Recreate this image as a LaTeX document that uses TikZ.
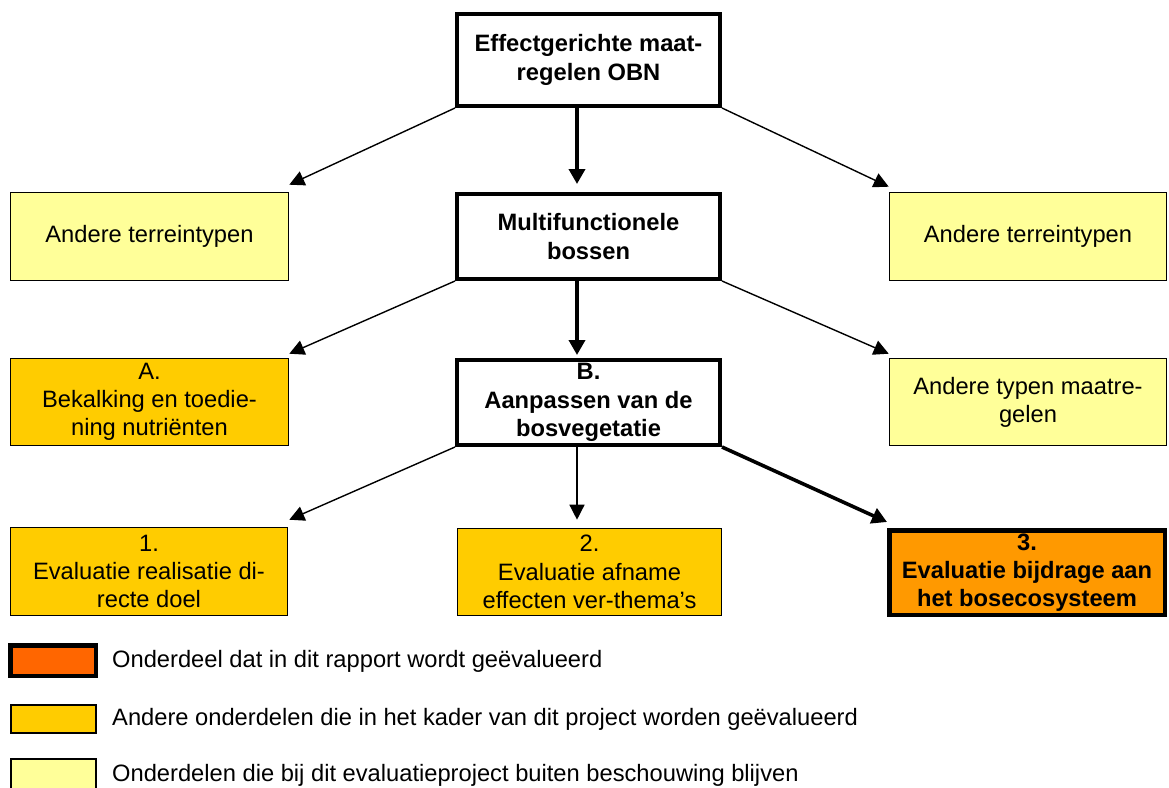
\documentclass[tikz,border=0pt]{standalone}
\usepackage{fontspec}
\setmainfont{Liberation Sans}
\usetikzlibrary{arrows.meta,calc}
\definecolor{lightyel}{HTML}{FFFF99}
\definecolor{gold}{HTML}{FFCC00}
\definecolor{orng}{HTML}{FF9900}
\definecolor{redorng}{HTML}{FF6600}
\begin{document}
\begin{tikzpicture}[x=1pt,y=-1pt,
  box/.style={draw, line width=1.6pt, align=center, inner sep=0pt,
    font=\fontsize{23.7}{28.2}\selectfont},
  heavy/.style={box, line width=4pt, font=\fontsize{23.7}{28.2}\selectfont\bfseries},
  arr/.style={-{Triangle[length=15pt,width=15pt]}, line width=1.4pt},
  thickarr/.style={-{Triangle[length=15pt,width=16pt]}, line width=3.6pt},
  legtext/.style={anchor=west, inner sep=0pt, font=\fontsize{23.7}{28.2}\selectfont}]
\useasboundingbox (0,0) rectangle (1169,787);
\clip (0,0) rectangle (1169,787);

% row 1
\node[heavy, fill=white, minimum width=263pt, minimum height=92pt] (top) at (588.5,60) {Effectgerichte maat-\\regelen OBN};
% row 2
\node[box, fill=lightyel, minimum width=278pt, minimum height=88pt] (L2) at (149.5,236.5) {Andere terreintypen};
\node[heavy, fill=white, minimum width=263pt, minimum height=85pt] (mid) at (588.5,236.5) {Multifunctionele\\bossen};
\node[box, fill=lightyel, minimum width=277pt, minimum height=88pt] (R2) at (1028,236.5) {Andere terreintypen};
% row 3
\node[box, fill=gold, minimum width=278pt, minimum height=87pt] (A) at (149.5,402) {A.\\Bekalking en toedie-\\ning nutriënten};
\node[heavy, fill=white, minimum width=263pt, minimum height=85pt] (B) at (588.5,402.5) {B.\\Aanpassen van de\\bosvegetatie};
\node[box, fill=lightyel, minimum width=277pt, minimum height=87pt] (R3) at (1028,402) {Andere typen maatre-\\gelen};
% row 4
\node[box, fill=gold, minimum width=277pt, minimum height=88pt] (E1) at (149,571.5) {1.\\Evaluatie realisatie di-\\recte doel};
\node[box, fill=gold, minimum width=264pt, minimum height=87pt] (E2) at (589.5,572) {2.\\Evaluatie afname\\effecten ver-thema’s};
\node[heavy, line width=4.5pt, fill=orng, minimum width=275.5pt, minimum height=84.5pt] (E3) at (1027,572.5) {3.\\Evaluatie bijdrage aan\\het bosecosysteem};

% arrows row 1 -> row 2
\draw[arr] (top.south west) -- ($(L2.north east)+(0,-7)$);
\draw[thickarr] ($(top.south)+(-11.5,0)$) -- ($(mid.north)+(-11.5,-8)$);
\draw[arr] (top.south east) -- ($(R2.north west)+(0,-5)$);
% arrows row 2 -> row 3
\draw[arr] (mid.south west) -- ($(A.north east)+(0,-4)$);
\draw[thickarr] ($(mid.south)+(-11.5,0)$) -- ($(B.north)+(-11.5,-3)$);
\draw[arr] (mid.south east) -- ($(R3.north west)+(0,-4)$);
% arrows row 3 -> row 4
\draw[arr] (B.south west) -- ($(E1.north east)+(1,-7)$);
\draw[arr] ($(B.south)+(-11.5,0)$) -- ($(E2.north)+(-12.5,-8)$);
\draw[thickarr] (B.south east) -- ($(E3.north west)+(0,-6)$);

% legend
\node[draw, line width=4.5pt, fill=redorng, minimum width=85.5pt, minimum height=30.5pt, inner sep=0pt] (k1) at (53,660.5) {};
\node[draw, line width=1.6pt, fill=gold, minimum width=85.5pt, minimum height=28.5pt, inner sep=0pt] (k2) at (53.5,719) {};
\node[draw, line width=1.6pt, fill=lightyel, minimum width=85.5pt, minimum height=32pt, inner sep=0pt] (k3) at (53.5,775) {};
\node[legtext] (t1) at (112,661) {Onderdeel dat in dit rapport wordt geëvalueerd};
\node[legtext] (t2) at (112,719.5) {Andere onderdelen die in het kader van dit project worden geëvalueerd};
\node[legtext] (t3) at (112,775) {Onderdelen die bij dit evaluatieproject buiten beschouwing blijven};
\end{tikzpicture}
\end{document}
